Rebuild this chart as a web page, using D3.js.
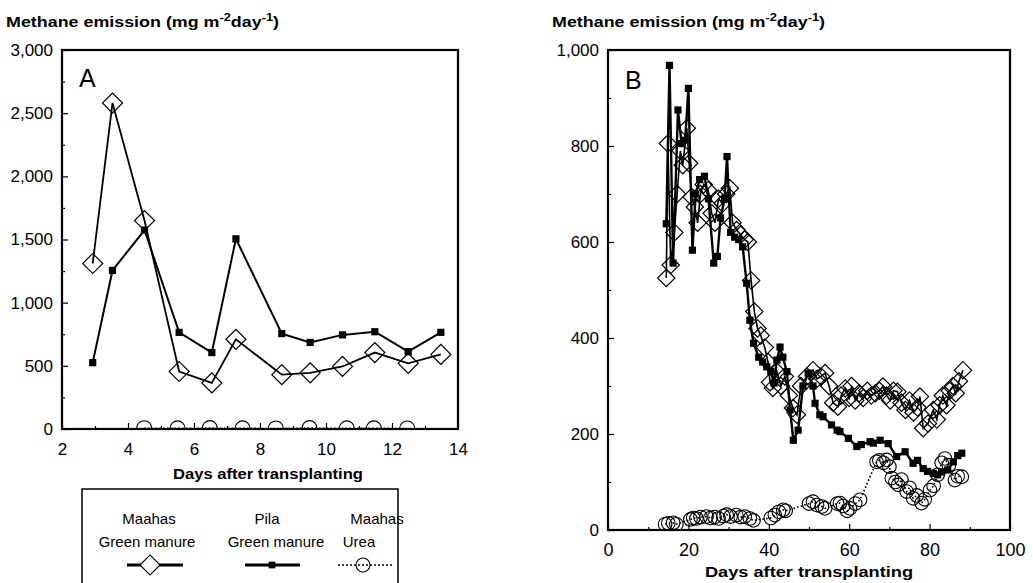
<!DOCTYPE html>
<html>
<head>
<meta charset="utf-8">
<script src="https://cdn.jsdelivr.net/npm/d3@7"></script>
<style>
  body { margin: 0; background: #fff; }
  svg { display: block; font-family: "Liberation Sans", Arial, Helvetica, sans-serif; }
</style>
</head>
<body>
<svg id="chart" width="1033" height="583"></svg>
<script>
// ---- Panel A: first two weeks ----
const daysA = [2.93, 3.53, 4.5, 5.55, 6.54, 7.27, 8.66, 9.52, 10.5, 11.48, 12.49, 13.48];
const maahasGreenA = [1310, 2580, 1650, 455, 365, 710, 430, 445, 495, 605, 520, 590];
const pilaGreenA = [525, 1255, 1575, 765, 605, 1505, 755, 685, 745, 770, 612, 765];
const ureaDaysA = [4.49, 5.5, 6.48, 7.47, 8.48, 9.5, 10.63, 11.45, 12.46];
const maahasUreaA = [6, 5, 7, 5, 4, 7, 5, 5, 4];

// ---- Panel B: whole season ----
const maahasGreenDaysB = [14.5, 14.9, 15.6, 16.5, 17.2, 18, 18.6, 19.6, 20.2, 20.8, 21.6, 22.3, 23, 23.8, 24.9, 25.8, 26.6, 27.5, 28.5, 29.4, 30.3, 31, 32, 33, 34, 34.8, 35.6, 36.4, 37.2, 38, 39, 39.8, 40.3, 41, 42, 43, 44, 45, 46, 47, 48, 49.5, 51, 52, 53, 54, 55, 56, 57.2, 58, 59, 60, 60.6, 61.5, 62.5, 63.5, 64.5, 65.5, 66.5, 67.5, 68.4, 69.3, 70.2, 71, 72, 73, 74, 75, 76, 77, 77.6, 78.4, 79.6, 80.9, 81.8, 82.5, 83.3, 84.2, 85, 85.8, 86.5, 87.3, 88.3];
const maahasGreenB = [525, 805, 552, 620, 700, 790, 760, 837, 764, 694, 673, 640, 700, 720, 708, 660, 640, 690, 680, 700, 712, 640, 625, 615, 605, 600, 520, 455, 420, 405, 380, 350, 308, 296, 330, 300, 320, 280, 254, 240, 300, 320, 333, 315, 320, 327, 300, 265, 257, 280, 295, 275, 300, 270, 285, 275, 290, 280, 285, 290, 299, 280, 270, 290, 288, 265, 250, 270, 245, 255, 278, 212, 222, 250, 230, 260, 280, 260, 290, 300, 285, 310, 333];

const pilaGreenDaysB = [14.5, 15.3, 16.2, 17.4, 18.3, 19.2, 20, 21, 21.8, 22.8, 24, 25, 26.3, 27.2, 28, 29, 29.6, 30.5, 31.5, 32.5, 33.5, 34.5, 35.3, 36.2, 37.5, 38.5, 39.5, 40.5, 41.3, 42, 42.8, 43.5, 44.5, 45.3, 46.1, 47.3, 48.5, 49.8, 51, 51.5, 52.7, 53.5, 55.6, 57, 57.7, 59.8, 61.9, 63, 65.2, 66, 67.7, 69.7, 71.8, 73.9, 75.9, 77, 78.4, 79.5, 80.9, 82, 83, 84.5, 85.9, 87, 88];
const pilaGreenB = [638, 968, 556, 875, 805, 812, 920, 583, 700, 730, 737, 690, 556, 570, 650, 690, 778, 620, 610, 605, 590, 514, 437, 389, 360, 350, 340, 330, 306, 354, 381, 360, 330, 250, 187, 208, 300, 327, 300, 264, 240, 236, 219, 208, 205, 191, 174, 178, 184, 181, 187, 180, 153, 163, 139, 145, 128, 122, 118, 115, 121, 125, 142, 155, 160];

const maahasUreaDaysB = [14.2, 15, 16.2, 17, 20.5, 21.2, 22, 23, 24.5, 25.5, 26.5, 27.5, 28.7, 29.5, 30.5, 31.9, 33, 34, 35.3, 36.2, 40.5, 41.5, 42.5, 43.6, 44.2, 50, 51, 52, 53.2, 54, 57, 57.7, 58.5, 59.5, 60.2, 61.5, 62.7, 66.8, 67.5, 68.5, 69.3, 70, 70.6, 71.5, 72.2, 73, 74.3, 75, 75.9, 76.8, 78, 78.8, 80.1, 81, 82, 83, 83.8, 84.8, 86.3, 87, 88];
const maahasUreaB = [12, 14, 15, 12, 22, 25, 24, 27, 28, 25, 27, 24, 29, 32, 28, 31, 27, 28, 24, 20, 25, 31, 38, 42, 40, 55, 59, 52, 49, 45, 55, 56, 50, 40, 45, 55, 63, 142, 145, 140, 146, 132, 108, 100, 94, 105, 80, 88, 66, 72, 56, 64, 83, 92, 115, 140, 149, 135, 104, 112, 111];

// ---- Axis ticks ----
const xTicksA = [2, 4, 6, 8, 10, 12, 14];
const yTicksA = [0, 500, 1000, 1500, 2000, 2500, 3000];
const xTicksB = [0, 20, 40, 60, 80, 100];
const yTicksB = [0, 200, 400, 600, 800, 1000];

const legendLabels = [["Maahas", "Green manure"], ["Pila", "Green manure"], ["Maahas", "Urea"]];

const svg = d3.select("#chart");
const fmt = d3.format(",");

function zip(xs, ys) { return xs.map((x, i) => ({ x, y: ys[i] })); }

function drawPanel(cfg) {
  const { x, y, id } = cfg;
  const [x0, x1] = x.range();
  const [yb, yt] = y.range();
  const g = svg.append("g");

  // clip region for the data marks
  svg.append("defs").append("clipPath").attr("id", id)
    .append("rect").attr("x", x0).attr("y", yt).attr("width", x1 - x0).attr("height", yb - yt);

  // major ticks pointing inward, labels outside
  const xa = g.append("g").attr("transform", `translate(0,${yb})`)
    .call(d3.axisBottom(x).tickValues(cfg.xTicks).tickSizeInner(-6).tickSizeOuter(0)
      .tickPadding(cfg.xPad).tickFormat(d3.format("d")));
  xa.selectAll("text").style("font-size", cfg.xFont + "px").attr("fill", "#000");
  const ya = g.append("g").attr("transform", `translate(${x0},0)`)
    .call(d3.axisLeft(y).tickValues(cfg.yTicks).tickSizeInner(-6).tickSizeOuter(0)
      .tickPadding(9).tickFormat(fmt));
  ya.selectAll("text").style("font-size", "17px").attr("fill", "#000");
  // minor ticks
  g.append("g").attr("transform", `translate(0,${yb})`)
    .call(d3.axisBottom(x).tickValues(cfg.xMinor).tickSizeInner(-3).tickSizeOuter(0).tickFormat(""));
  g.append("g").attr("transform", `translate(${x0},0)`)
    .call(d3.axisLeft(y).tickValues(cfg.yMinor).tickSizeInner(-3).tickSizeOuter(0).tickFormat(""));
  g.selectAll(".domain").remove();
  g.selectAll(".tick line").attr("stroke", "#000").attr("stroke-width", 1.2);

  // frame
  g.append("rect").attr("x", x0).attr("y", yt).attr("width", x1 - x0).attr("height", yb - yt)
    .attr("fill", "none").attr("stroke", "#000").attr("stroke-width", 2.2);

  // panel letter
  g.append("text").attr("x", cfg.letterX).attr("y", cfg.letterY)
    .style("font-size", "25px").text(cfg.letter);

  // y title
  const yt1 = g.append("text").attr("x", cfg.titleX).attr("y", 27)
    .style("font-size", "14px").style("font-weight", "bold")
    .attr("textLength", 273).attr("lengthAdjust", "spacingAndGlyphs");
  yt1.append("tspan").text("Methane emission (mg m");
  yt1.append("tspan").attr("dy", -6).style("font-size", "10px").text("-2");
  yt1.append("tspan").attr("dy", 6).text("day");
  yt1.append("tspan").attr("dy", -6).style("font-size", "10px").text("-1");
  yt1.append("tspan").attr("dy", 6).text(")");

  // x title
  g.append("text").attr("x", cfg.xTitleX).attr("y", cfg.xTitleY).attr("text-anchor", "middle")
    .style("font-size", "15px").style("font-weight", "bold")
    .attr("textLength", cfg.xTitleW).attr("lengthAdjust", "spacingAndGlyphs")
    .text("Days after transplanting");

  const data = g.append("g").attr("clip-path", `url(#${id})`);
  const line = d3.line().x(d => x(d.x)).y(d => y(d.y));

  // Maahas urea: dotted line with open circles
  const urea = zip(cfg.ureaX, cfg.ureaY);
  data.append("path").datum(urea).attr("d", line).attr("fill", "none")
    .attr("stroke", "#000").attr("stroke-width", 1.6).attr("stroke-dasharray", "1.6,2.2");
  data.selectAll(null).data(urea).join("circle")
    .attr("cx", d => x(d.x)).attr("cy", d => y(d.y)).attr("r", cfg.circleR)
    .attr("fill", "none").attr("stroke", "#000").attr("stroke-width", 1.1);

  // Maahas green manure: solid line with open diamonds
  const mg = zip(cfg.mgX, cfg.mgY);
  data.append("path").datum(mg).attr("d", line).attr("fill", "none")
    .attr("stroke", "#000").attr("stroke-width", cfg.mgWidth);
  const diamond = d3.symbol(d3.symbolSquare, cfg.diamondSize);
  data.selectAll(null).data(mg).join("path")
    .attr("d", diamond)
    .attr("transform", d => `translate(${x(d.x)},${y(d.y)}) rotate(45)`)
    .attr("fill", "none").attr("stroke", "#000").attr("stroke-width", 1.2);

  // Pila green manure: solid line with filled squares
  const pg = zip(cfg.pgX, cfg.pgY);
  data.append("path").datum(pg).attr("d", line).attr("fill", "none")
    .attr("stroke", "#000").attr("stroke-width", cfg.pgWidth);
  const square = d3.symbol(d3.symbolSquare, 52);
  data.selectAll(null).data(pg).join("path")
    .attr("d", square)
    .attr("transform", d => `translate(${x(d.x)},${y(d.y)})`)
    .attr("fill", "#000");
}

drawPanel({
  id: "clipA",
  x: d3.scaleLinear([2, 14], [62, 458]),
  y: d3.scaleLinear([0, 3000], [429, 50]),
  xTicks: xTicksA, yTicks: yTicksA,
  xMinor: [3, 5, 7, 9, 11, 13],
  yMinor: [250, 750, 1250, 1750, 2250, 2750],
  xPad: 14, xFont: 17,
  letter: "A", letterX: 79, letterY: 87,
  titleX: 6, xTitleX: 268, xTitleY: 479, xTitleW: 190,
  ureaX: ureaDaysA, ureaY: maahasUreaA, circleR: 7.5,
  mgX: daysA, mgY: maahasGreenA, mgWidth: 1.8, diamondSize: 200,
  pgX: daysA, pgY: pilaGreenA, pgWidth: 2
});

drawPanel({
  id: "clipB",
  x: d3.scaleLinear([0, 100], [608, 1010]),
  y: d3.scaleLinear([0, 1000], [530, 50]),
  xTicks: xTicksB, yTicks: yTicksB,
  xMinor: [10, 30, 50, 70, 90],
  yMinor: [100, 300, 500, 700, 900],
  xPad: 13, xFont: 18,
  letter: "B", letterX: 625, letterY: 89,
  titleX: 552, xTitleX: 809, xTitleY: 577, xTitleW: 208,
  ureaX: maahasUreaDaysB, ureaY: maahasUreaB, circleR: 6.8,
  mgX: maahasGreenDaysB, mgY: maahasGreenB, mgWidth: 1.6, diamondSize: 150,
  pgX: pilaGreenDaysB, pgY: pilaGreenB, pgWidth: 2.4
});

// ---- Legend under panel A ----
const lg = svg.append("g");
lg.append("rect").attr("x", 82).attr("y", 489).attr("width", 316).attr("height", 120)
  .attr("fill", "none").attr("stroke", "#000").attr("stroke-width", 1.5);
const cols = [
  { cx1: 149, cx2: 147, sx: 150, l0: 127, l1: 183 },
  { cx1: 267, cx2: 276, sx: 272, l0: 245, l1: 300 },
  { cx1: 377, cx2: 359, sx: 363, l0: 338, l1: 392 }
];
legendLabels.forEach((lab, i) => {
  const c = cols[i];
  lg.append("text").attr("x", c.cx1).attr("y", 524).attr("text-anchor", "middle")
    .style("font-size", "15px").text(lab[0]);
  lg.append("text").attr("x", c.cx2).attr("y", 547).attr("text-anchor", "middle")
    .style("font-size", "15px").text(lab[1]);
  const ln = lg.append("line").attr("x1", c.l0).attr("x2", c.l1).attr("y1", 565).attr("y2", 565)
    .attr("stroke", "#000");
  if (i === 2) ln.attr("stroke-width", 1.6).attr("stroke-dasharray", "2,2");
  else ln.attr("stroke-width", 3);
});
lg.append("path").attr("d", d3.symbol(d3.symbolSquare, 200))
  .attr("transform", "translate(150,565) rotate(45)")
  .attr("fill", "#fff").attr("stroke", "#000").attr("stroke-width", 1.2);
lg.append("path").attr("d", d3.symbol(d3.symbolSquare, 45))
  .attr("transform", "translate(272,565)").attr("fill", "#000");
lg.append("circle").attr("cx", 363).attr("cy", 565).attr("r", 7)
  .attr("fill", "none").attr("stroke", "#000").attr("stroke-width", 1.1);
</script>
</body>
</html>
